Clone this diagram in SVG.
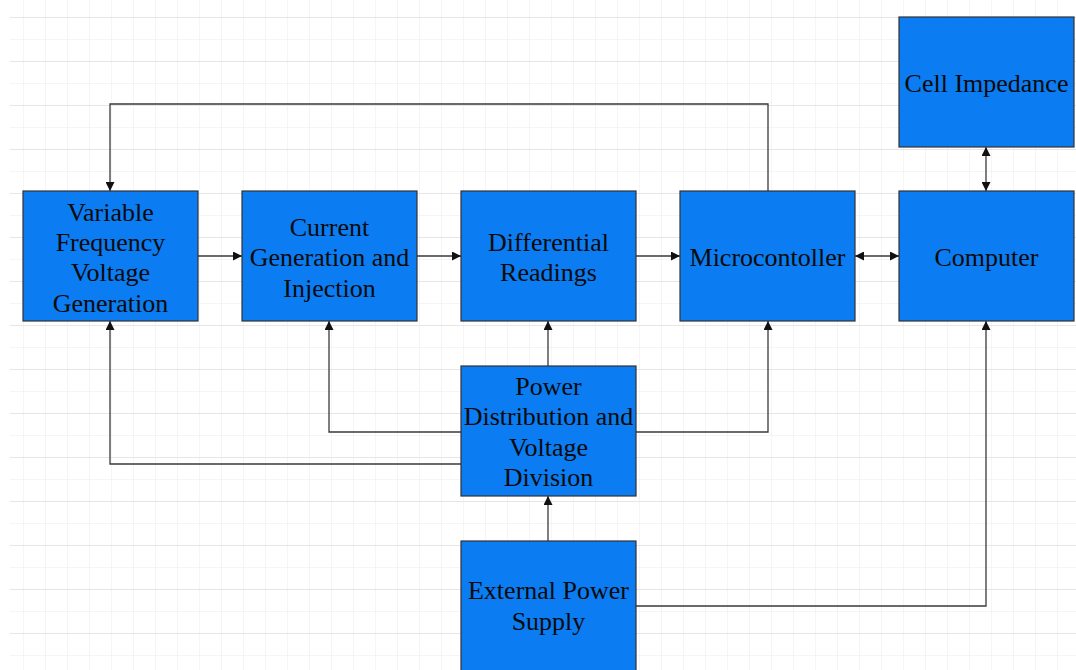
<svg xmlns="http://www.w3.org/2000/svg" width="1076" height="670" viewBox="0 0 1076 670">
<defs>
<pattern id="minor" x="1" y="-5" width="22" height="22" patternUnits="userSpaceOnUse">
<path d="M22 0H0V22" fill="none" stroke="#ececec" stroke-width="1"/>
</pattern>
<pattern id="major" x="1" y="17" width="88" height="44" patternUnits="userSpaceOnUse">
<path d="M88 0H0" fill="none" stroke="#e2e2e2" stroke-width="1.5"/>
</pattern>
<marker id="ah" viewBox="0 0 10 10" refX="10" refY="5" markerWidth="9" markerHeight="9" markerUnits="userSpaceOnUse" orient="auto-start-reverse">
<path d="M0 0L10 5L0 10z" fill="#111"/>
</marker>
</defs>
<style>
.node rect{fill:#0b7cf2;stroke:#333;stroke-width:1.2}
.node text{font-family:"Liberation Serif","Times New Roman",serif;font-size:26px;fill:#0a0a0a;text-anchor:middle}
.conn path{fill:none;stroke:#3a3a3a;stroke-width:1.3}
</style>
<rect x="0" y="0" width="1076" height="670" fill="#fff"/>
<rect x="10" y="0" width="1066" height="670" fill="url(#minor)"/>
<rect x="10" y="0" width="1066" height="670" fill="url(#major)"/>
<g id="connectors" class="conn">
<path d="M768 191V104H110V191" marker-end="url(#ah)"/>
<path d="M198 256H242" marker-end="url(#ah)"/>
<path d="M417 256H461" marker-end="url(#ah)"/>
<path d="M636 256H680" marker-end="url(#ah)"/>
<path d="M855 256H899" marker-start="url(#ah)" marker-end="url(#ah)"/>
<path d="M986 147V191" marker-start="url(#ah)" marker-end="url(#ah)"/>
<path d="M548 366V321" marker-end="url(#ah)"/>
<path d="M461 432H329V321" marker-end="url(#ah)"/>
<path d="M461 464H110V321" marker-end="url(#ah)"/>
<path d="M636 432H768V321" marker-end="url(#ah)"/>
<path d="M548 541V496" marker-end="url(#ah)"/>
<path d="M636 606H986V321" marker-end="url(#ah)"/>
</g>
<g id="vfvg" class="node"><rect x="23" y="191" width="175" height="130"/>
<text><tspan x="110.5" y="221">Variable</tspan><tspan x="110.5" y="251">Frequency</tspan><tspan x="110.5" y="281">Voltage</tspan><tspan x="110.5" y="312">Generation</tspan></text></g>
<g id="cgi" class="node"><rect x="242" y="191" width="175" height="130"/>
<text><tspan x="329.5" y="236">Current</tspan><tspan x="329.5" y="266">Generation and</tspan><tspan x="329.5" y="297">Injection</tspan></text></g>
<g id="dr" class="node"><rect x="461" y="191" width="175" height="130"/>
<text><tspan x="548.5" y="251">Differential</tspan><tspan x="548.5" y="281">Readings</tspan></text></g>
<g id="mcu" class="node"><rect x="680" y="191" width="175" height="130"/>
<text x="767.5" y="266">Microcontoller</text></g>
<g id="computer" class="node"><rect x="899" y="191" width="175" height="130"/>
<text x="986.5" y="266">Computer</text></g>
<g id="cell" class="node"><rect x="899" y="17" width="175" height="130"/>
<text x="986.5" y="92">Cell Impedance</text></g>
<g id="pdvd" class="node"><rect x="461" y="366" width="175" height="130"/>
<text><tspan x="548.5" y="395">Power</tspan><tspan x="548.5" y="425">Distribution and</tspan><tspan x="548.5" y="456">Voltage</tspan><tspan x="548.5" y="486">Division</tspan></text></g>
<g id="eps" class="node"><rect x="461" y="541" width="175" height="135"/>
<text><tspan x="548.5" y="599">External Power</tspan><tspan x="548.5" y="630">Supply</tspan></text></g>
</svg>
